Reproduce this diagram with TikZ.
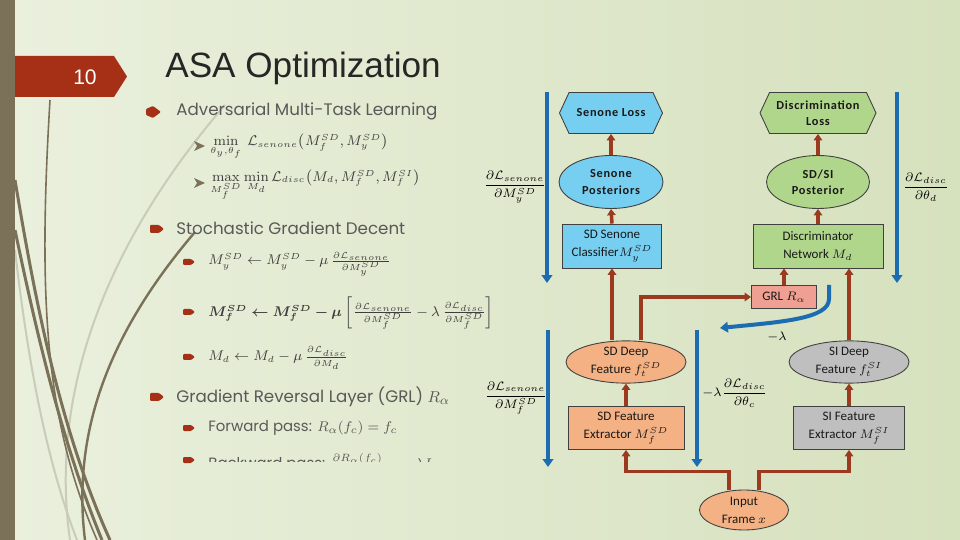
\documentclass[tikz,border=0pt]{standalone}
\usepackage{amsmath}
\usepackage{bm}
\usepackage[no-math]{fontspec}
\setmainfont{Carlito}
\newfontfamily\titlefont{Liberation Sans}
\newfontfamily\itemfont{Poppins}
\newfontfamily\hdfont[LetterSpace=6]{Carlito}
\usetikzlibrary{arrows.meta,shapes.geometric,shapes.symbols,positioning}

\definecolor{bgleft}{RGB}{234,240,221}
\definecolor{bgmid}{RGB}{243,246,233}
\definecolor{bgright}{RGB}{214,225,190}
\definecolor{barcol}{RGB}{122,113,88}
\definecolor{lightcurve}{RGB}{200,204,184}
\definecolor{tabred}{RGB}{166,48,22}
\definecolor{txtgray}{RGB}{89,89,89}
\definecolor{flowbrown}{RGB}{156,58,32}
\definecolor{gradblue}{RGB}{28,108,178}
\definecolor{skyfill}{RGB}{118,206,240}
\definecolor{leaffill}{RGB}{176,214,140}
\definecolor{peachfill}{RGB}{244,177,131}
\definecolor{greyfill}{RGB}{191,191,191}
\definecolor{grlfill}{RGB}{240,160,146}

\newlength\pxl
\setlength\pxl{0.02cm}

\begin{document}
\begin{tikzpicture}[x=1\pxl,y=-1\pxl,
  nd/.style={draw=black!75,line width=0.5pt,align=center,text=black!90,inner sep=0pt,
    font=\fontsize{7.4}{10.2}\selectfont},
  lossnd/.style n args={3}{nd,signal,signal to=east and west,signal pointer angle=130,
    fill=#1,minimum width=#2\pxl,minimum height=#3\pxl,font=\hdfont\bfseries\fontsize{7}{9.2}\selectfont},
  postnd/.style n args={3}{nd,ellipse,fill=#1,minimum width=#2\pxl,minimum height=#3\pxl,
    font=\hdfont\bfseries\fontsize{7}{9.2}\selectfont},
  ellnd/.style n args={3}{nd,ellipse,fill=#1,minimum width=#2\pxl,minimum height=#3\pxl},
  boxnd/.style n args={3}{nd,rectangle,fill=#1,minimum width=#2\pxl,minimum height=#3\pxl},
  fwd/.style={flowbrown,line width=3.5\pxl,-{Triangle[length=3.6pt,width=4.8pt]}},
  bwd/.style={gradblue,line width=4\pxl,-{Triangle[length=4.5pt,width=6pt]}},
  grad/.style={inner sep=0pt,font=\fontsize{7.2}{9}\selectfont},
  lvla/.style={anchor=west,inner sep=0pt,text=txtgray,font=\itemfont\fontsize{9.5}{11}\selectfont},
  lvlb/.style={anchor=west,inner sep=0pt,text=txtgray,font=\itemfont\fontsize{8.5}{10}\selectfont},
  eqn/.style={anchor=west,inner sep=0pt,text=txtgray!70!black,font=\fontsize{7.6}{10}\selectfont}]

\useasboundingbox (0,0) rectangle (960,540);
\shade[left color=bgleft,middle color=bgmid,right color=bgright] (0,0) rectangle (960,540);

\draw[lightcurve,line width=2\pxl] (225,105) .. controls (100,250) and (50,400) .. (70,540);
\draw[lightcurve,line width=2\pxl] (15,250) .. controls (30,380) and (50,470) .. (77,540);
\draw[barcol,line width=1.6\pxl] (50,100) .. controls (38,300) and (45,420) .. (97,540);
\draw[barcol,line width=3\pxl] (15,180) .. controls (35,300) and (60,430) .. (110,540);
\draw[barcol,line width=3\pxl] (15,230) .. controls (40,350) and (65,450) .. (102,540);
\draw[barcol,line width=2.4\pxl] (195,232) .. controls (120,320) and (70,420) .. (85,540);
\fill[barcol] (0,0) rectangle (15,540);

\fill[tabred] (15,56) -- (114,56) -- (127,76.5) -- (114,97) -- (15,97) -- cycle;
\node[font=\titlefont\fontsize{12}{14}\selectfont,text=white] (pgno) at (85,77) {10};
\node[anchor=base west,inner sep=0pt,font=\titlefont\fontsize{20}{23}\selectfont,text=black!85] (ttl) at (165,78) {ASA Optimization};

% bullets
\fill[tabred,rounded corners=1\pxl] (146,109) -- (153,106) -- (161,112) -- (153,118) -- (146,115) -- cycle;
\foreach \yy in {229,397}
  \fill[tabred,rounded corners=1\pxl] (150,\yy-4) -- (159,\yy-4) -- (164,\yy) -- (159,\yy+4) -- (150,\yy+4) -- cycle;
\foreach \yy in {262,312,357,428,460}
  \fill[tabred,rounded corners=1\pxl] (183,\yy-3) -- (191,\yy-3) -- (195,\yy) -- (191,\yy+3) -- (183,\yy+3) -- cycle;
\foreach \yy in {146,183}
  \fill[barcol] (194,\yy-5) -- (205,\yy) -- (194,\yy+5) -- (197,\yy) -- cycle;

\node[lvla] (amtl) at (176,111) {Adversarial Multi-Task Learning};
\node[eqn] (minl) at (210,147) {$\min\limits_{\theta_y,\theta_f}\ \mathcal{L}_{senone}\big(M_f^{SD},M_y^{SD}\big)$};
\node[eqn] (maxl) at (210,185) {$\max\limits_{M_f^{SD}}\min\limits_{M_d}\mathcal{L}_{disc}\big(M_d,M_f^{SD},M_f^{SI}\big)$};
\node[lvla] (sgd) at (176,228) {Stochastic Gradient Decent};
\node[eqn] (upy) at (208,264) {$M_y^{SD}\leftarrow M_y^{SD}-\mu\,\frac{\partial\mathcal{L}_{senone}}{\partial M_y^{SD}}$};
\node[eqn] (upf) at (208,313) {$\bm{M_f^{SD}\leftarrow M_f^{SD}-\mu}\left[\frac{\partial\mathcal{L}_{senone}}{\partial M_f^{SD}}-\lambda\,\frac{\partial\mathcal{L}_{disc}}{\partial M_f^{SD}}\right]$};
\node[eqn] (upd) at (208,358) {$M_d\leftarrow M_d-\mu\,\frac{\partial\mathcal{L}_{disc}}{\partial M_d}$};
\node[lvla] (grlt) at (176,397) {Gradient Reversal Layer (GRL) {\rmfamily$R_\alpha$}};
\node[lvlb] (fwdp) at (208,428) {Forward pass: {\rmfamily$R_\alpha(f_c)=f_c$}};
\begin{scope}
\clip (140,440) rectangle (480,461);
\node[lvlb] (bwdp) at (208,465) {Backward pass: {\rmfamily$\frac{\partial R_\alpha(f_c)}{\partial f_c}=-\lambda I$}};
\end{scope}

% network
\node[lossnd={skyfill}{103}{41}] (sloss) at (611,113) {Senone Loss};
\node[lossnd={leaffill}{116}{41}] (dloss) at (818,113) {Discrimination\\Loss};
\node[postnd={skyfill}{104}{53}] (spost) at (611,182) {Senone\\Posteriors};
\node[postnd={leaffill}{103}{53}] (dpost) at (818,182) {SD/SI\\Posterior};
\node[boxnd={skyfill}{99}{44}] (scl) at (612,246) {SD Senone\\Classifier$M_y^{SD}$};
\node[boxnd={leaffill}{130}{44}] (dnet) at (818,246) {Discriminator\\Network $M_d$};
\node[boxnd={grlfill}{65}{23}] (grl) at (784,297) {GRL $R_\alpha$};
\node[ellnd={peachfill}{120}{40}] (sdd) at (626,362) {SD Deep\\Feature $f_t^{SD}$};
\node[ellnd={greyfill}{120}{40}] (sid) at (849,362) {SI Deep\\Feature $f_t^{SI}$};
\node[boxnd={peachfill}{116}{43}] (sdf) at (626,428) {SD Feature\\Extractor $M_f^{SD}$};
\node[boxnd={greyfill}{111}{43}] (sif) at (849,428) {SI Feature\\Extractor $M_f^{SI}$};
\node[ellnd={peachfill}{89}{40}] (inp) at (744,510) {Input\\Frame $x$};

\draw[fwd] (spost.north) -- (sloss.south);
\draw[fwd] (scl.north) -- (spost.south);
\draw[fwd] (dpost.north) -- (dloss.south);
\draw[fwd] (dnet.north) -- (dpost.south);
\draw[fwd] (sdd.north -| scl.south) -- (scl.south);
\draw[fwd] ([xshift=15\pxl]sdd.north) |- (grl.west);
\draw[fwd] (grl.north) -- (grl.north |- dnet.south);
\draw[fwd] (sid.north) -- (sid.north |- dnet.south);
\draw[fwd] (sdf.north) -- (sdd.south);
\draw[fwd] (sif.north) -- (sid.south);
\draw[fwd] ([xshift=-15\pxl]inp.north) -- ++(0,-18) -| (sdf.south);
\draw[fwd] ([xshift=15\pxl]inp.north) -- ++(0,-18) -| (sif.south);

% gradients
\coordinate (ay1) at (547,92);
\coordinate (ay2) at (547,283);
\coordinate (ad1) at (897,92);
\coordinate (ad2) at (897,283);
\coordinate (af1) at (548,330);
\coordinate (af2) at (548,467);
\coordinate (ac1) at (697,330);
\coordinate (ac2) at (697,467);
\coordinate (rv1) at (829,285);
\coordinate (rv2) at (720,328);
\draw[bwd] (ay1) -- (ay2);
\draw[bwd] (ad1) -- (ad2);
\draw[bwd] (af1) -- (af2);
\draw[bwd] (ac1) -- (ac2);
\draw[bwd] (rv1) -- ++(0,14) .. controls +(0,20) and +(60,-6) .. (rv2);

\node[grad] (gsy) at (515,187) {$\dfrac{\partial\mathcal{L}_{senone}}{\partial M_y^{SD}}$};
\node[grad] (gdd) at (926,187) {$\dfrac{\partial\mathcal{L}_{disc}}{\partial\theta_d}$};
\node[grad] (gsf) at (516,398) {$\dfrac{\partial\mathcal{L}_{senone}}{\partial M_f^{SD}}$};
\node[grad] (gdc) at (735,393) {$-\lambda\dfrac{\partial\mathcal{L}_{disc}}{\partial\theta_c}$};
\node[grad] (lam) at (777,337) {$-\lambda$};
\end{tikzpicture}
\end{document}
